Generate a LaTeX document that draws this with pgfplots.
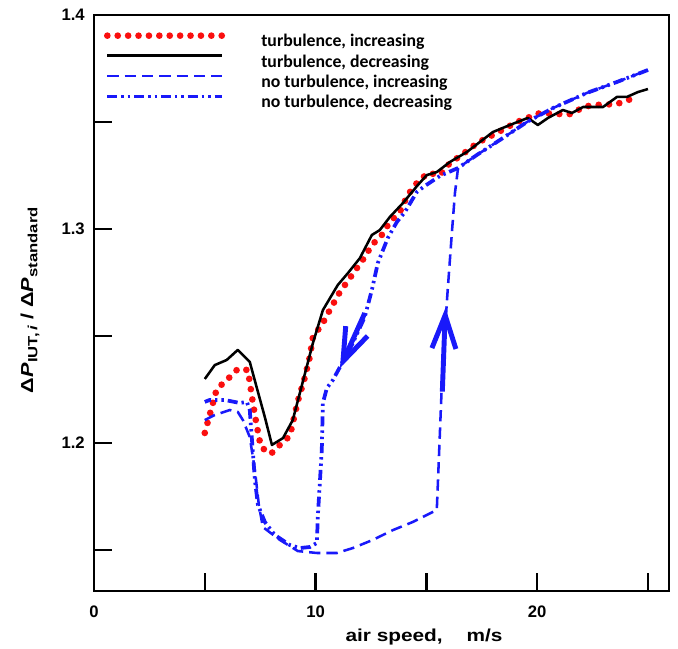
\documentclass[border=0pt]{standalone}
\usepackage{fontspec}
\setmainfont{Liberation Sans}
\newfontfamily\legfont{Carlito}
\usepackage{graphicx}
\usepackage{pgfplots}
\pgfplotsset{compat=1.18}
\usetikzlibrary{arrows.meta}
\definecolor{dotred}{RGB}{250,15,15}
\definecolor{lineblue}{RGB}{25,25,250}
\pgfplotsset{
  turbinc/.style={draw=dotred, line width=5pt, line cap=round, dash pattern=on 0pt off 7.8pt},
  turbdec/.style={draw=black, line width=1.9pt, line join=round},
  noturbinc/.style={draw=lineblue, line width=1.9pt, dash pattern=on 8.5pt off 4.5pt},
  noturbdec/.style={draw=lineblue, line width=2.8pt, dash pattern=on 7.5pt off 3pt on 1.8pt off 3pt on 1.8pt off 3pt},
}
\newcommand{\sub}[1]{\raisebox{-3.2pt}{\fontsize{10}{12}\selectfont #1}}
\begin{document}
\begin{tikzpicture}
\begin{axis}[
    scale only axis,
    width=431.25pt, height=432pt,
    xmin=0, xmax=25.95,
    ymin=1.13084, ymax=1.4,
    axis line style={line width=2.2pt},
    xtick={0,5,10,15,20,25},
    xticklabels={0,,10,,20,},
    ytick={1.15,1.2,1.25,1.3,1.35,1.4},
    yticklabels={,1.2,,1.3,,1.4},
    xtick pos=bottom, ytick pos=left,
    tick align=inside,
    major tick length=13.5pt,
    tick style={line width=1.9pt, black},
    ticklabel style={font=\bfseries\fontsize{12.5}{14}\selectfont, inner sep=0pt},
    xticklabel style={anchor=center, yshift=-15.75pt},
    yticklabel style={anchor=east, xshift=-6.75pt},
    xlabel={\scalebox{1.2}[1]{air speed,\hspace{1.15em}m/s}},
    xlabel style={at={(rel axis cs:0.574,-0.0799)}, anchor=center, font=\bfseries\fontsize{13}{15}\selectfont},
    ylabel={\scalebox{1.25}[1]{Δ\textit{P}\sub{IUT,\,\textit{i}} / Δ\textit{P}\sub{standard}}},
    ylabel style={at={(rel axis cs:-0.1113,0.505)}, anchor=center, font=\bfseries\fontsize{13}{15}\selectfont},
    legend image code/.code={\draw[#1] (0pt,5.5pt) -- (86pt,5.5pt);},
    legend cell align=left,
    legend style={draw=none, fill=none, inner sep=0pt, outer sep=0pt,
      at={(rel axis cs:0,1)}, anchor=north west, xshift=7.5pt, yshift=-13pt,
      font=\legfont\bfseries\fontsize{13.3}{15}\selectfont,
      row sep=2.6pt, column sep=27pt,
      nodes={inner sep=0pt, text height=9pt, text depth=3pt}},
]
% turbulence, increasing
\addplot[turbinc] coordinates {
(5.00,1.2047) (5.27,1.2150) (5.54,1.2252) (6.04,1.2299) (6.49,1.2346)
(6.94,1.2341) (7.03,1.2285) (7.17,1.2187) (7.35,1.2079) (7.53,1.1981)
(7.98,1.1949) (8.39,1.1991) (8.84,1.2033) (9.20,1.2196) (9.51,1.2304)
(9.74,1.2402) (9.88,1.2495) (10.33,1.2561) (10.64,1.2621) (11.10,1.2706)
(11.55,1.2771) (12.22,1.2869) (12.54,1.2925) (12.99,1.2972) (13.35,1.3033)
(13.80,1.3079) (14.16,1.3159) (14.57,1.3215) (15.07,1.3262) (15.61,1.3252)
(16.06,1.3308) (16.60,1.3346) (17.05,1.3383) (17.55,1.3416) (18.18,1.3449)
(19.09,1.3500) (20.13,1.3542) (21.03,1.3537) (21.57,1.3537) (22.07,1.3570)
(22.52,1.3579) (23.60,1.3584) (24.10,1.3603) (24.55,1.3612)
};
\addlegendentry{turbulence, increasing}
% turbulence, decreasing
\addplot[turbdec] coordinates {
(5.00,1.2299) (5.45,1.2364) (5.99,1.2388) (6.49,1.2435) (7.03,1.2379)
(7.35,1.2257) (7.71,1.2121) (8.03,1.1991) (8.53,1.2023) (8.97,1.2107)
(9.42,1.2285) (9.88,1.2467) (10.33,1.2621) (11.00,1.2738) (11.46,1.2794)
(12.00,1.2864) (12.54,1.2972) (12.90,1.2995) (13.35,1.3056) (13.94,1.3121)
(14.62,1.3206) (15.02,1.3252) (15.47,1.3266) (16.06,1.3313) (16.83,1.3360)
(18.00,1.3453) (18.77,1.3486) (19.58,1.3519) (20.03,1.3486) (20.49,1.3519)
(21.16,1.3556) (21.57,1.3542) (22.07,1.3570) (22.97,1.3570) (23.60,1.3617)
(24.05,1.3617) (24.55,1.3640) (25.00,1.3654)
};
\addlegendentry{turbulence, decreasing}
% no turbulence, increasing
\addplot[noturbinc] coordinates {
(5.00,1.2107) (5.45,1.2131) (6.13,1.2154) (6.49,1.2145) (6.72,1.2107)
(7.03,1.2028) (7.26,1.1874) (7.44,1.1710) (7.62,1.1607) (8.39,1.1547)
(9.20,1.1495) (10.06,1.1486) (10.96,1.1486) (11.68,1.1509) (12.58,1.1547)
(13.49,1.1593) (14.39,1.1631) (15.47,1.1687) (15.52,1.1813) (15.70,1.2280)
(15.93,1.2668) (16.15,1.2981) (16.29,1.3168) (16.43,1.3285) (17.28,1.3346)
(18.32,1.3416) (19.54,1.3500) (20.71,1.3565) (22.25,1.3636) (23.60,1.3687)
(25.00,1.3743)
};
\addlegendentry{no turbulence, increasing}
% no turbulence, decreasing
\addplot[noturbdec] coordinates {
(25.00,1.3743) (23.60,1.3687) (22.25,1.3636) (20.71,1.3565) (19.54,1.3500)
(18.32,1.3416) (17.28,1.3346) (16.43,1.3285) (15.61,1.3248) (14.93,1.3201)
(14.57,1.3173) (14.03,1.3079) (13.67,1.3033) (13.26,1.2958) (12.81,1.2841)
(12.54,1.2715) (12.22,1.2589) (11.64,1.2458) (11.10,1.2355) (10.78,1.2294)
(10.51,1.2257) (10.33,1.2187) (10.28,1.1967) (10.10,1.1654) (10.06,1.1533)
(9.74,1.1514) (9.29,1.1509) (8.84,1.1523) (8.16,1.1570) (7.71,1.1631)
(7.40,1.1710) (7.26,1.1827) (7.13,1.2014) (7.03,1.2154) (6.90,1.2192)
(6.58,1.2187) (5.90,1.2201) (5.22,1.2201) (5.00,1.2192)
};
\addlegendentry{no turbulence, decreasing}
% direction arrows
\addplot[draw=lineblue, line width=3.7pt, -{Straight Barb[length=25pt,width=18pt]}, forget plot]
  coordinates {(12.22,1.2607) (11.10,1.2350)};
\addplot[draw=lineblue, line width=3.7pt, -{Straight Barb[length=25pt,width=18pt]}, forget plot]
  coordinates {(15.72,1.2240) (15.86,1.2631)};
\end{axis}
\pgfresetboundingbox
\useasboundingbox (-70.5pt,-43.5pt) rectangle (438pt,443.25pt);
\end{tikzpicture}
\end{document}
